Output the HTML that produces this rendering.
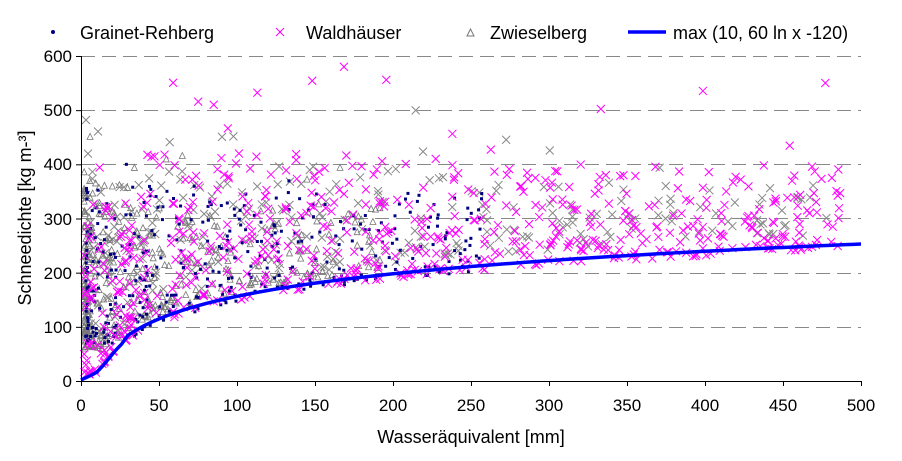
<!DOCTYPE html>
<html><head><meta charset="utf-8"><style>
body{margin:0;background:#fff}
svg text{font-family:"Liberation Sans",Arial,sans-serif}
</style></head><body>
<svg id="s" width="902" height="456" xmlns="http://www.w3.org/2000/svg">
<rect width="902" height="456" fill="#fff"/>
<g stroke="#888" stroke-width="1" stroke-dasharray="14,7">
<line x1="81" x2="861" y1="56.5" y2="56.5"/>
<line x1="81" x2="861" y1="110.5" y2="110.5"/>
<line x1="81" x2="861" y1="164.5" y2="164.5"/>
<line x1="81" x2="861" y1="218.5" y2="218.5"/>
<line x1="81" x2="861" y1="273.5" y2="273.5"/>
<line x1="81" x2="861" y1="327.5" y2="327.5"/>
</g>
<g id="pts"></g>
<path id="curve" fill="none" stroke="#0000ff" stroke-width="3.5"/>
<g stroke="#000" stroke-width="1">
<line x1="81.5" x2="81.5" y1="56" y2="381"/>
<line x1="81" x2="861" y1="381.5" y2="381.5"/>
</g>
<g id="ticks" stroke="#000"></g>
<g font-size="17" fill="#000" text-anchor="end">
<text x="72" y="62">600</text><text x="72" y="116">500</text><text x="72" y="170">400</text>
<text x="72" y="225">300</text><text x="72" y="279">200</text><text x="72" y="333">100</text><text x="72" y="387">0</text>
</g>
<g font-size="17" fill="#000" text-anchor="middle">
<text x="81" y="411">0</text><text x="159" y="411">50</text><text x="237" y="411">100</text><text x="315" y="411">150</text>
<text x="393" y="411">200</text><text x="471" y="411">250</text><text x="549" y="411">300</text><text x="627" y="411">350</text>
<text x="705" y="411">400</text><text x="783" y="411">450</text><text x="861" y="411">500</text>
</g>
<text x="471" y="443" font-size="18" text-anchor="middle">Wasseräquivalent [mm]</text>
<text transform="translate(31,218) rotate(-90)" font-size="18" text-anchor="middle">Schneedichte [kg m-³]</text>
<g font-size="18">
<circle cx="53" cy="32" r="2" fill="#000080"/>
<text x="80" y="39">Grainet-Rehberg</text>
<path d="M276 28l8 8M284 28l-8 8" stroke="#ff00ff" stroke-width="1"/>
<text x="306" y="39">Waldhäuser</text>
<path d="M467 36l3.5-7 3.5 7z" fill="none" stroke="#777"/>
<text x="490" y="39">Zwieselberg</text>
<line x1="628" x2="666" y1="32" y2="32" stroke="#0000ff" stroke-width="3.5"/>
<text x="673" y="39">max (10, 60 ln x -120)</text>
</g>
</svg>
<script>
(function(){
var X=function(v){return 81+v*1.56},Y=function(v){return 381-v*0.5417};
var seed=11;function r(){seed=(seed*16807)%2147483647;return (seed-1)/2147483646}
function f(x){return Math.max(10,60*Math.log(x)-120)}
function lo(x){return x<30?Math.max(20,f(x)):f(x)}
var s='',t='',hi,b,x,y;
for(var i=0;i<=500;i+=50){t+='<line x1="'+(X(i)+.5)+'" x2="'+(X(i)+.5)+'" y1="381" y2="386"/>'}
for(var j=0;j<=600;j+=100){t+='<line x1="76" x2="81" y1="'+(Y(j)+.5)+'" y2="'+(Y(j)+.5)+'"/>'}
document.getElementById('ticks').innerHTML=t;
function cross(x,y,c){return '<path d="M'+(x-4)+' '+(y-4)+'l8 8M'+(x+4)+' '+(y-4)+'l-8 8" stroke="'+c+'" stroke-width="1"/>'}
function out(p,h){return r()<p?h:0}
for(var k=0;k<300;k++){x=Math.pow(r(),1.9)*475+3;b=Math.max(lo(x)+20,90);hi=(x<100?390:(x<300?400:370))+out(0.1,130);y=b+Math.pow(r(),1.4)*(hi-b);s+=cross(X(x),Y(y),'#888')}
for(var k=0;k<360;k++){x=Math.pow(r(),2.6)*190+2;b=Math.max(lo(x)+10,60);hi=(x<30?370:320)+out(0.12,110);y=b+Math.pow(r(),1.5)*(hi-b);var px=X(x),py=Y(y);s+='<path d="M'+(px-3)+' '+(py+3)+'l3-6 3 6z" fill="none" stroke="#777" stroke-width="0.8"/>'}
for(var k=0;k<380;k++){x=Math.pow(r(),1.7)*255+3;b=Math.max(lo(x)-10,70);hi=(x<80?360:350)+out(0.1,90);y=b+Math.pow(r(),1.4)*(hi-b);s+='<rect x="'+(X(x)-1.5)+'" y="'+(Y(y)-1.5)+'" width="3" height="3" fill="#000080"/>'}
for(var k=0;k<620;k++){x=Math.pow(r(),1.4)*485+2;b=lo(x)-8;hi=(x<40?340:(x<250?420:400))+out(x>50&&x<320?0.2:0.1,x<40?100:170);y=b+Math.pow(r(),1.6)*(hi-b);if(y>590)y=590;s+=cross(X(x),Y(y),'#ff00ff')}
document.getElementById('pts').innerHTML=s;
var d='M'+X(0)+' '+Y(2);
var pre=[[3,6],[6,10],[10,16],[14,28],[18,42],[22,56],[26,68]];
pre.forEach(function(p){d+=' L'+X(p[0])+' '+Y(p[1])});
for(x=30;x<=500;x+=5)d+=' L'+X(x)+' '+Y(f(x));
document.getElementById('curve').setAttribute('d',d);
})();
</script>
</body></html>
